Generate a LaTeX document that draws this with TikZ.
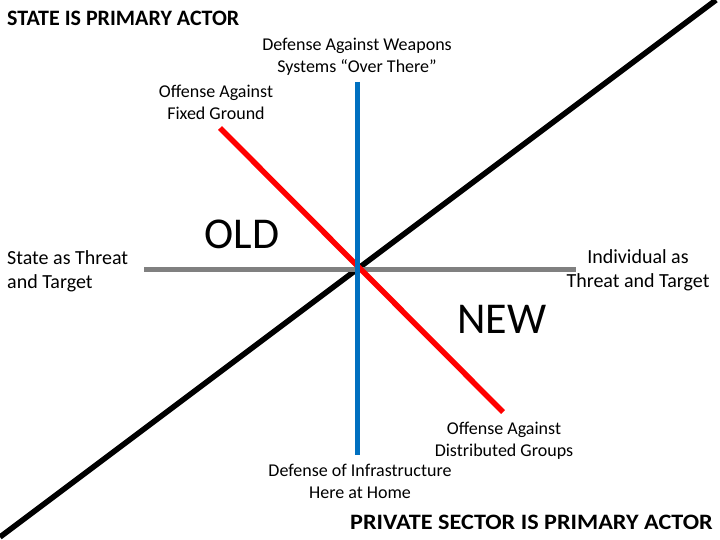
\documentclass[tikz,border=0pt]{standalone}
\usepackage{fontspec}
\setmainfont{Carlito}
\definecolor{axisblue}{RGB}{0,112,192}
\definecolor{axisred}{RGB}{255,0,0}
\definecolor{axisgray}{RGB}{128,128,128}
\begin{document}
\begin{tikzpicture}[x=1pt,y=-1pt,
  axisline/.style={line width=5.5pt},
  lbl/.style={font=\fontsize{18}{22}\selectfont, align=center, inner sep=0pt},
  sidelbl/.style={font=\fontsize{20}{24}\selectfont, align=center, inner sep=0pt},
  title/.style={font=\fontsize{22}{26}\selectfont\bfseries, inner sep=0pt},
  big/.style={font=\fontsize{44}{50}\selectfont, inner sep=0pt}]
\useasboundingbox (0,0) rectangle (720,540);
% axes
\coordinate (bl) at (0,537);
\coordinate (tr) at (716,0);
\coordinate (gl) at (144,269.5);
\coordinate (gr) at (576,269.5);
\coordinate (bt) at (357.5,82);
\coordinate (bb) at (357.5,455);
\coordinate (rt) at (220,128);
\coordinate (rb) at (503,412);
\draw[axisline, black] (bl) -- (tr);
\draw[axisline, axisgray] (gl) -- (gr);
\draw[axisline, axisred] (rt) -- (rb);
\draw[axisline, axisblue] (bt) -- (bb);
% texts
\node[title, anchor=west] (state) at (7,18) {STATE IS PRIMARY ACTOR};
\node[title, anchor=east] (private) at (713,522) {\scalebox{1.1}[1]{PRIVATE SECTOR IS PRIMARY ACTOR}};
\node[lbl] (defw) at (357,57) {Defense Against Weapons\\Systems “Over There”};
\node[lbl] (offf) at (216,102) {Offense Against\\Fixed Ground};
\node[sidelbl, align=left, anchor=west] (stt) at (7,271) {State as Threat\\and Target};
\node[sidelbl] (ind) at (638,270) {Individual as\\Threat and Target};
\node[lbl] (offd) at (504,441) {Offense Against\\Distributed Groups};
\node[lbl] (defi) at (360,481) {Defense of Infrastructure\\Here at Home};
\node[big] (old) at (242,234) {OLD};
\node[big] (new) at (502,319) {NEW};
\end{tikzpicture}
\end{document}
